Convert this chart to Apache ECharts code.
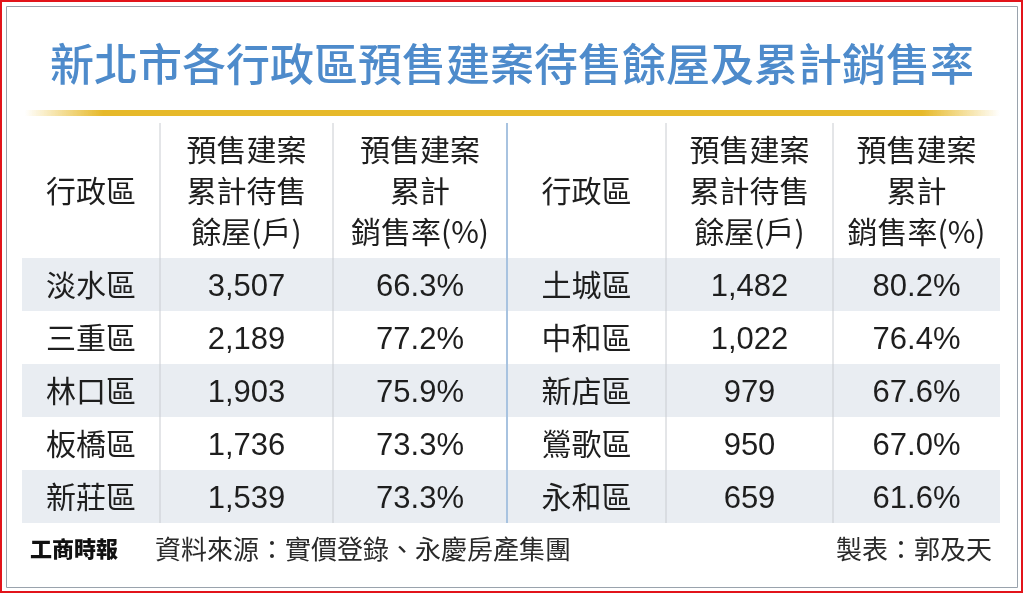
<!DOCTYPE html>
<html><head><meta charset="utf-8">
<script src="https://cdn.jsdelivr.net/npm/echarts@6/dist/echarts.min.js"></script>
<style>html,body{margin:0;padding:0;background:#fff}#c{width:1024px;height:594px}</style>
</head><body><div id="c"></div>
<script>
const title = '新北市各行政區預售建案待售餘屋及累計銷售率';
const headers = ['行政區','預售建案\n累計待售\n餘屋(戶)','預售建案\n累計\n銷售率(%)','行政區','預售建案\n累計待售\n餘屋(戶)','預售建案\n累計\n銷售率(%)'];
const leftDistricts = ['淡水區','三重區','林口區','板橋區','新莊區'];
const leftUnits = ['3,507','2,189','1,903','1,736','1,539'];
const leftRates = ['66.3%','77.2%','75.9%','73.3%','73.3%'];
const rightDistricts = ['土城區','中和區','新店區','鶯歌區','永和區'];
const rightUnits = ['1,482','1,022','979','950','659'];
const rightRates = ['80.2%','76.4%','67.6%','67.0%','61.6%'];
const source = '資料來源：實價登錄、永慶房產集團';
const maker = '製表：郭及天';

// layout constants (axis units)
const colEdges = [0,138,311,485,644,811,978];
const rowEdges = [0,138,191,244,297,350,403];

const cells = [];
headers.forEach((h,i)=>cells.push([i,0,h]));
for (let r=0;r<5;r++){
  [leftDistricts[r],leftUnits[r],leftRates[r],rightDistricts[r],rightUnits[r],rightRates[r]].forEach((v,i)=>cells.push([i,r+1,v]));
}
const cjk = '"Noto Sans CJK TC","Noto Sans CJK SC",sans-serif';
const num = '"Liberation Sans",Arial,"Noto Sans CJK TC",sans-serif';

const chart = echarts.init(document.getElementById('c'));
chart.setOption({
  animation:false,
  grid:{left:22,top:120,width:978,height:403},
  xAxis:{type:'value',min:0,max:978,show:false},
  yAxis:{type:'value',min:0,max:403,inverse:true,show:false},
  series:[{
    type:'custom',
    data:cells,
    renderItem:(params,api)=>{
      const c=api.value(0), r=api.value(1), txt=cells[params.dataIndex][2];
      const p0=api.coord([colEdges[c],rowEdges[r]]), p1=api.coord([colEdges[c+1],rowEdges[r+1]]);
      const ch=[];
      if (r%2===1) ch.push({type:'rect',shape:{x:p0[0],y:p0[1],width:p1[0]-p0[0],height:p1[1]-p0[1]},style:{fill:'#e9edf2'}});
      if (c>0){
        const mid = c===3;
        ch.push({type:'line',shape:{x1:p0[0],y1:p0[1]+(r===0?3:0),x2:p0[0],y2:p1[1]},style:{stroke:mid?'#a8c3e0':'#c9ccd1',lineWidth:mid?2:1}});
      }
      const isNum = /^[0-9]/.test(txt);
      const dy = r===0 ? 2 : (isNum ? 3 : 0);
      ch.push({type:'text',style:{text:txt,x:(p0[0]+p1[0])/2,y:(p0[1]+p1[1])/2+dy,align:'center',verticalAlign:'middle',
        fill:'#1e1e1e',font:(isNum?'31px ':'30px ')+(isNum?num:cjk),lineHeight:41}});
      return {type:'group',children:ch};
    }
  }],
  graphic:[
    {type:'rect',shape:{x:1,y:1,width:1021,height:591},style:{fill:'none',stroke:'#e2141b',lineWidth:2}},
    {type:'rect',shape:{x:6.5,y:6.5,width:1011,height:581},style:{fill:'none',stroke:'#9aa3ad',lineWidth:1}},
    {type:'text',style:{text:title,x:512,y:64,align:'center',verticalAlign:'middle',fill:'#4e8bcb',font:'500 44px '+cjk}},
    {type:'rect',shape:{x:25,y:110,width:975,height:6},style:{fill:new echarts.graphic.LinearGradient(0,0,1,0,[
      {offset:0,color:'rgba(232,185,32,0)'},{offset:0.08,color:'#e6b92a'},{offset:0.92,color:'#e6b92a'},{offset:1,color:'rgba(232,185,32,0)'}])}},
    {type:'text',style:{text:'工商時報',x:30,y:549,verticalAlign:'middle',fill:'#111',font:'900 22px '+cjk}},
    {type:'text',style:{text:source,x:155,y:549,verticalAlign:'middle',fill:'#2a2a2a',font:'26px '+cjk}},
    {type:'text',style:{text:maker,x:992,y:549,align:'right',verticalAlign:'middle',fill:'#2a2a2a',font:'26px '+cjk}}
  ]
});
</script></body></html>
